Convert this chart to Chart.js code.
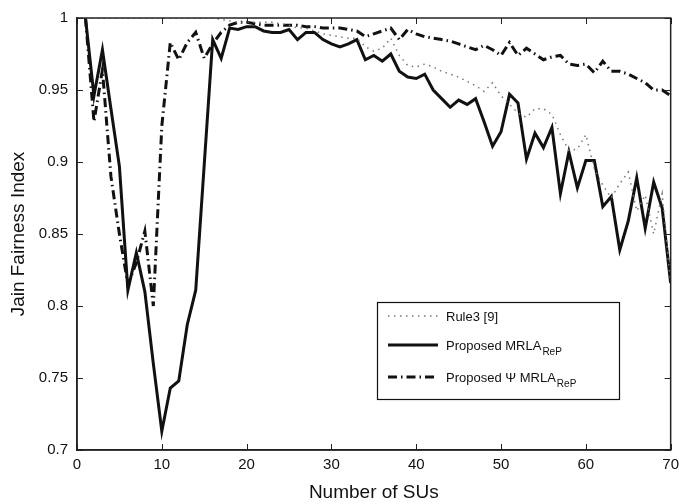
<!DOCTYPE html>
<html>
<head>
<meta charset="utf-8">
<script src="https://cdn.jsdelivr.net/npm/chart.js@4.4.0/dist/chart.umd.min.js"></script>
<style>
  html, body { margin: 0; padding: 0; background: #fff; }
  #wrap { width: 685px; height: 504px; }
</style>
</head>
<body>
<div id="wrap"><canvas id="jain" width="685" height="504"></canvas></div>
<script>
// x = number of SUs (1..70)
const numSUs = Array.from({ length: 70 }, (_, i) => i + 1);

// Rule3 [9]
const rule3 = [
  1.0, 1.0, 1.0, 1.0, 1.0, 1.0, 1.0, 1.0, 1.0, 1.0,
  1.0, 1.0, 1.0, 1.0, 1.0, 1.0, 0.999, 0.998, 0.997, 0.997,
  0.997, 0.997, 0.997, 0.996, 0.995, 0.993, 0.993, 0.991, 0.989, 0.988,
  0.987, 0.986, 0.986, 0.980, 0.977, 0.979, 0.986, 0.974, 0.967, 0.966,
  0.968, 0.966, 0.963, 0.961, 0.959, 0.956, 0.953, 0.949, 0.955, 0.946,
  0.940, 0.934, 0.931, 0.937, 0.937, 0.933, 0.919, 0.908, 0.909, 0.919,
  0.895, 0.884, 0.875, 0.885, 0.893, 0.866, 0.877, 0.850, 0.878, 0.815
];

// Proposed MRLA_ReP
const mrla = [
  1.0, 0.946, 0.978, 0.937, 0.897, 0.811, 0.837, 0.810, 0.760, 0.713,
  0.743, 0.748, 0.787, 0.811, 0.898, 0.985, 0.972, 0.993, 0.992, 0.994,
  0.994, 0.991, 0.990, 0.990, 0.992, 0.985, 0.990, 0.990, 0.985, 0.982,
  0.980, 0.982, 0.985, 0.971, 0.974, 0.970, 0.975, 0.963, 0.959, 0.958,
  0.961, 0.950, 0.944, 0.938, 0.943, 0.940, 0.944, 0.928, 0.911, 0.921,
  0.947, 0.941, 0.902, 0.920, 0.910, 0.924, 0.878, 0.907, 0.882, 0.901,
  0.901, 0.869, 0.876, 0.839, 0.859, 0.889, 0.854, 0.886, 0.868, 0.816
];

// Proposed Psi MRLA_ReP
const psiMrla = [
  1.0, 0.928, 0.964, 0.890, 0.850, 0.815, 0.830, 0.852, 0.800, 0.925,
  0.983, 0.971, 0.983, 0.990, 0.972, 0.982, 0.990, 0.995, 0.997, 0.997,
  0.996, 0.995, 0.995, 0.995, 0.995, 0.995, 0.994, 0.994, 0.993, 0.993,
  0.993, 0.992, 0.991, 0.987, 0.989, 0.991, 0.993, 0.985, 0.992, 0.989,
  0.987, 0.986, 0.985, 0.984, 0.982, 0.980, 0.978, 0.981, 0.978, 0.974,
  0.983, 0.974, 0.979, 0.975, 0.971, 0.973, 0.974, 0.968, 0.967, 0.968,
  0.962, 0.970, 0.963, 0.963, 0.961, 0.958, 0.955, 0.950, 0.950, 0.946
];

const xTicks = [0, 10, 20, 30, 40, 50, 60, 70];
const yTicks = [0.7, 0.75, 0.8, 0.85, 0.9, 0.95, 1];

const FONT = "'Liberation Sans', Arial, Helvetica, sans-serif";

const toPoints = vals => vals.map((v, i) => ({ x: numSUs[i], y: v }));

// legend entries: main text + subscript
const legendItems = [
  { text: 'Rule3 [9]', sub: '' },
  { text: 'Proposed MRLA', sub: 'ReP' },
  { text: 'Proposed \u03A8 MRLA', sub: 'ReP' }
];

// MATLAB style: box frame, inward ticks on all sides, boxed legend
const matlabBox = {
  id: 'matlabBox',
  afterDraw(chart) {
    const { ctx, chartArea: a, scales } = chart;
    ctx.save();
    ctx.strokeStyle = '#222';
    ctx.lineWidth = 1.5;
    ctx.strokeRect(a.left, a.top, a.right - a.left, a.bottom - a.top);
    ctx.lineWidth = 1;
    const tl = 6;
    ctx.beginPath();
    xTicks.forEach(v => {
      const px = Math.round(scales.x.getPixelForValue(v)) + 0.5;
      ctx.moveTo(px, a.bottom); ctx.lineTo(px, a.bottom - tl);
      ctx.moveTo(px, a.top); ctx.lineTo(px, a.top + tl);
    });
    yTicks.forEach(v => {
      const py = Math.round(scales.y.getPixelForValue(v)) + 0.5;
      ctx.moveTo(a.left, py); ctx.lineTo(a.left + tl, py);
      ctx.moveTo(a.right, py); ctx.lineTo(a.right - tl, py);
    });
    ctx.stroke();

    // legend box
    const bx = 377, by = 302, bw = 242, bh = 97;
    ctx.fillStyle = '#fff';
    ctx.fillRect(bx, by, bw, bh);
    ctx.strokeStyle = '#111';
    ctx.lineWidth = 1.2;
    ctx.strokeRect(bx + 0.5, by + 0.5, bw, bh);
    const rows = [316, 345, 377];
    chart.data.datasets.forEach((ds, i) => {
      const y = rows[i];
      ctx.save();
      ctx.strokeStyle = ds.borderColor;
      ctx.lineWidth = ds.borderWidth;
      ctx.setLineDash(ds.borderDash || []);
      ctx.beginPath();
      ctx.moveTo(388, y); ctx.lineTo(438, y);
      ctx.stroke();
      ctx.restore();
      const it = legendItems[i];
      ctx.fillStyle = '#111';
      ctx.textBaseline = 'middle';
      ctx.font = '13px ' + FONT;
      ctx.fillText(it.text, 446, y + 1);
      if (it.sub) {
        const w = ctx.measureText(it.text).width;
        ctx.font = '10px ' + FONT;
        ctx.fillText(it.sub, 446 + w + 1, y + 7);
      }
    });
    ctx.restore();
  }
};

new Chart(document.getElementById('jain'), {
  type: 'line',
  data: {
    datasets: [
      {
        label: 'Rule3 [9]',
        data: toPoints(rule3),
        borderColor: '#777',
        borderWidth: 1.5,
        borderDash: [1.5, 4.5],
        pointRadius: 0,
        tension: 0,
        fill: false
      },
      {
        label: 'Proposed MRLA_ReP',
        data: toPoints(mrla),
        borderColor: '#111',
        borderWidth: 3,
        pointRadius: 0,
        tension: 0,
        fill: false
      },
      {
        label: 'Proposed Psi MRLA_ReP',
        data: toPoints(psiMrla),
        borderColor: '#111',
        borderWidth: 3,
        borderDash: [9, 4, 1.5, 4],
        pointRadius: 0,
        tension: 0,
        fill: false
      }
    ]
  },
  options: {
    responsive: false,
    animation: false,
    devicePixelRatio: 1,
    layout: { padding: { top: 15, right: 12, left: 0, bottom: 0 } },
    plugins: {
      legend: { display: false },
      tooltip: { enabled: false }
    },
    scales: {
      x: {
        type: 'linear',
        min: 0,
        max: 70,
        afterBuildTicks: s => { s.ticks = xTicks.map(v => ({ value: v })); },
        ticks: { color: '#111', font: { family: FONT, size: 15 }, padding: 6 },
        grid: { display: true, drawOnChartArea: false, drawTicks: false },
        border: { display: true, color: '#222', width: 1.5 },
        title: {
          display: true,
          text: 'Number of SUs',
          color: '#111',
          font: { family: FONT, size: 19 },
          padding: { top: 2, bottom: 0 }
        },
        afterFit: s => { s.height = 54; }
      },
      y: {
        type: 'linear',
        min: 0.7,
        max: 1,
        afterBuildTicks: s => { s.ticks = yTicks.map(v => ({ value: v })); },
        ticks: {
          color: '#111',
          font: { family: FONT, size: 15 },
          padding: 9,
          callback: v => String(Number(v.toFixed(2)))
        },
        grid: { display: true, drawOnChartArea: false, drawTicks: false },
        border: { display: true, color: '#222', width: 1.5 },
        title: {
          display: true,
          text: 'Jain Fairness Index',
          color: '#111',
          font: { family: FONT, size: 19 },
          padding: { top: 7, bottom: 0 }
        },
        afterFit: s => { s.width = 77; }
      }
    }
  },
  plugins: [matlabBox]
});
</script>
</body>
</html>
